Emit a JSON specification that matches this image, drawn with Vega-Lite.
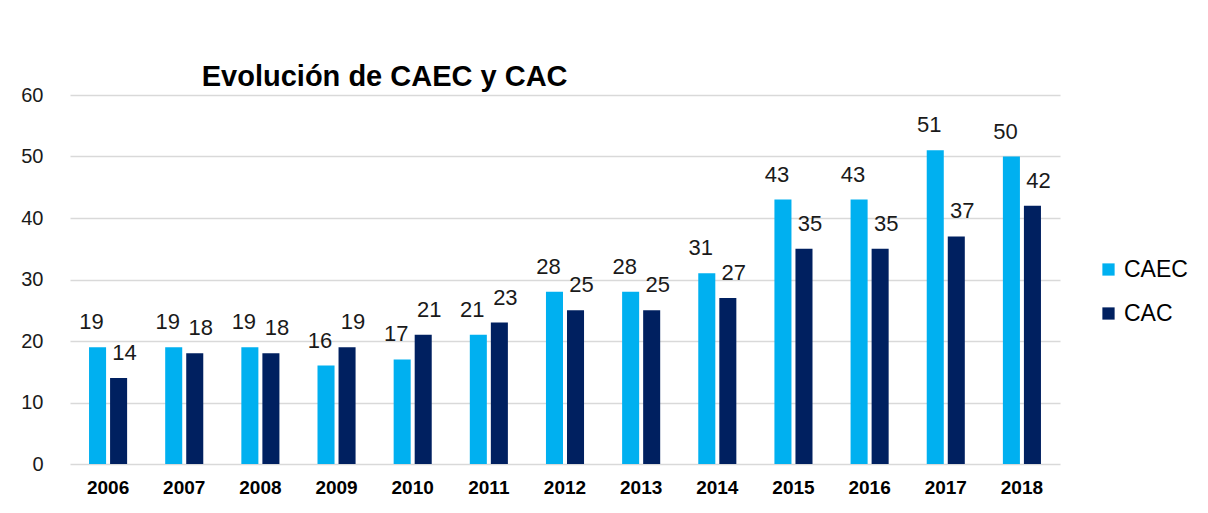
{
  "$schema": "https://vega.github.io/schema/vega-lite/v6.json",
  "width": 990,
  "height": 369,
  "autosize": {"type": "none"},
  "padding": {"left": 70, "top": 95, "right": 148, "bottom": 49},
  "background": "white",
  "config": {"view": {"stroke": null}, "font": "Liberation Sans"},
  "title": {
    "text": "Evolución de CAEC y CAC",
    "anchor": "start",
    "dx": 181,
    "offset": -7,
    "fontSize": 29,
    "fontWeight": "bold",
    "color": "#000000",
    "font": "Liberation Sans"
  },
  "data": {
    "values": [
      {"year": "2006", "series": "CAEC", "value": 19}, {"year": "2006", "series": "CAC", "value": 14},
      {"year": "2007", "series": "CAEC", "value": 19}, {"year": "2007", "series": "CAC", "value": 18},
      {"year": "2008", "series": "CAEC", "value": 19}, {"year": "2008", "series": "CAC", "value": 18},
      {"year": "2009", "series": "CAEC", "value": 16}, {"year": "2009", "series": "CAC", "value": 19},
      {"year": "2010", "series": "CAEC", "value": 17}, {"year": "2010", "series": "CAC", "value": 21},
      {"year": "2011", "series": "CAEC", "value": 21}, {"year": "2011", "series": "CAC", "value": 23},
      {"year": "2012", "series": "CAEC", "value": 28}, {"year": "2012", "series": "CAC", "value": 25},
      {"year": "2013", "series": "CAEC", "value": 28}, {"year": "2013", "series": "CAC", "value": 25},
      {"year": "2014", "series": "CAEC", "value": 31}, {"year": "2014", "series": "CAC", "value": 27},
      {"year": "2015", "series": "CAEC", "value": 43}, {"year": "2015", "series": "CAC", "value": 35},
      {"year": "2016", "series": "CAEC", "value": 43}, {"year": "2016", "series": "CAC", "value": 35},
      {"year": "2017", "series": "CAEC", "value": 51}, {"year": "2017", "series": "CAC", "value": 37},
      {"year": "2018", "series": "CAEC", "value": 50}, {"year": "2018", "series": "CAC", "value": 42}
    ]
  },
  "encoding": {
    "x": {
      "field": "year", "type": "nominal",
      "scale": {"paddingInner": 0.5, "paddingOuter": 0.25},
      "axis": {
        "title": null, "labelAngle": 0, "labelFontSize": 19, "labelFontWeight": "bold",
        "labelColor": "#000000", "labelPadding": 14, "ticks": false, "domain": false,
        "labelFont": "Liberation Sans"
      }
    },
    "xOffset": {"field": "series", "type": "nominal", "sort": ["CAEC", "CAC"], "scale": {"paddingInner": 0.19}},
    "y": {
      "field": "value", "type": "quantitative",
      "scale": {"domain": [0, 60]},
      "axis": {
        "title": null, "values": [0, 10, 20, 30, 40, 50, 60], "labelOverlap": false,
        "labelFontSize": 20, "labelColor": "#1a1a1a", "labelPadding": 27,
        "ticks": false, "domain": false, "gridColor": "#d9d9d9", "gridWidth": 1.5,
        "labelFont": "Liberation Sans"
      }
    }
  },
  "layer": [
    {
      "mark": {"type": "bar"},
      "encoding": {
        "color": {
          "field": "series", "type": "nominal",
          "sort": ["CAEC", "CAC"],
          "scale": {"domain": ["CAEC", "CAC"], "range": ["#00B0F0", "#002060"]},
          "legend": {
            "title": null, "orient": "none", "legendX": 1027, "legendY": 163,
            "symbolType": "square", "symbolSize": 150, "symbolStrokeWidth": 0,
            "labelFontSize": 23, "labelColor": "#000000", "rowPadding": 20,
            "labelFont": "Liberation Sans", "labelOffset": 4
          }
        }
      }
    },
    {
      "transform": [{"filter": "datum.series === 'CAEC'"}],
      "mark": {"type": "text", "baseline": "bottom", "dy": -13, "dx": -6, "fontSize": 22, "color": "#1a1a1a", "font": "Liberation Sans"},
      "encoding": {"text": {"field": "value", "type": "quantitative"}}
    },
    {
      "transform": [{"filter": "datum.series === 'CAC'"}],
      "mark": {"type": "text", "baseline": "bottom", "dy": -13, "dx": 6, "fontSize": 22, "color": "#1a1a1a", "font": "Liberation Sans"},
      "encoding": {"text": {"field": "value", "type": "quantitative"}}
    }
  ]
}
